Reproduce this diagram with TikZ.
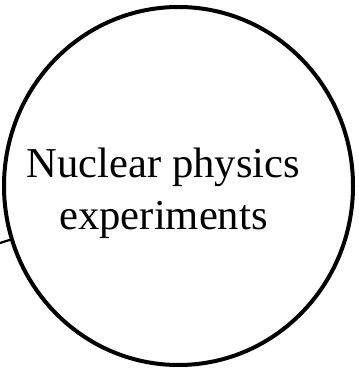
\documentclass[tikz,border=0pt]{standalone}
\usepackage{fontspec}
\setmainfont{Liberation Serif}
\usetikzlibrary{shapes.geometric}
\tikzset{
  topic/.style={ellipse, draw=black, line width=4pt, inner sep=0pt,
                minimum width=349pt, minimum height=358pt},
  topictext/.style={align=center, inner sep=0pt,
                    font=\fontsize{42.6}{52}\selectfont},
  link/.style={draw=black, line width=2.2pt},
}
\begin{document}
\begin{tikzpicture}[x=1pt, y=1pt]
\useasboundingbox (0,0) rectangle (358,371);
% the one circle; its words sit a little left of and below its middle
\node[topic] (nucexp) at (178.5,185) {};
\node[topictext] (nucexptext) at ([shift={(-15,-7)}]nucexp.center)
  {Nuclear physics\\experiments};
% stub of a link coming in from the left
\coordinate (linkin) at (0,128);
\draw[link] (linkin) -- (nucexp);
\end{tikzpicture}
\end{document}
